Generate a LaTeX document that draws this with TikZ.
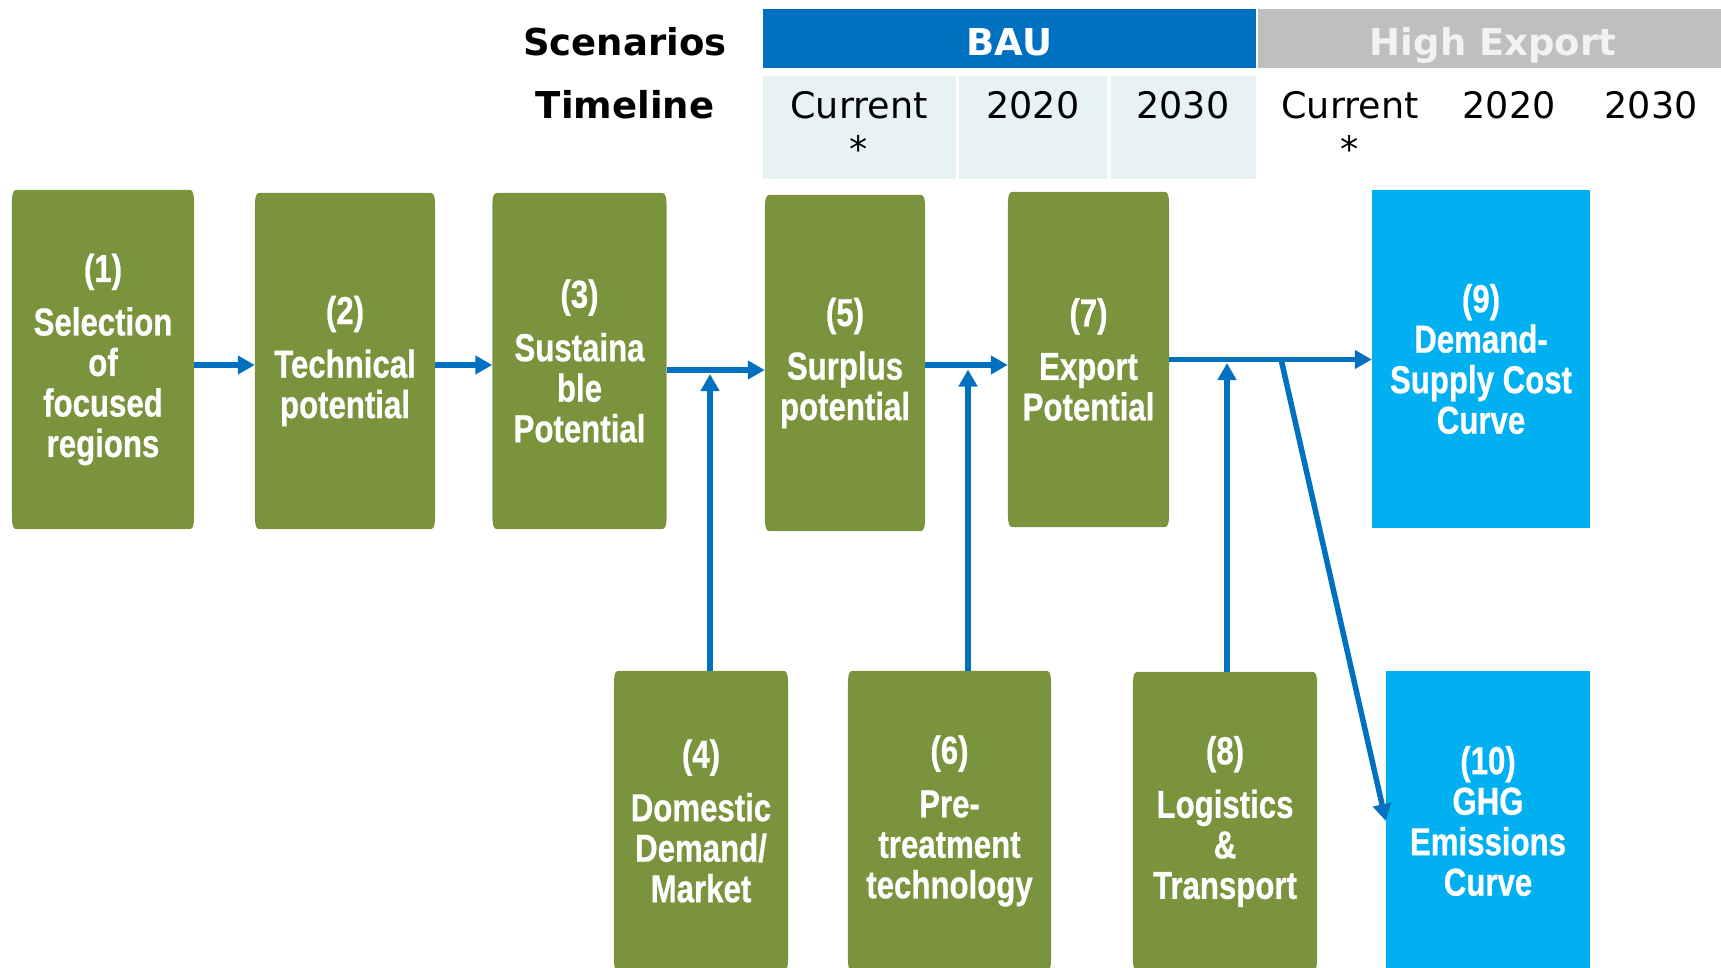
\documentclass[tikz,border=0pt]{standalone}
\usepackage{fontspec}
\setmainfont{DejaVu Sans}
\newfontfamily\boxfont[FakeStretch=0.80,BoldFeatures={FakeBold=0.6}]{Liberation Sans}
\usetikzlibrary{arrows.meta,backgrounds}
\definecolor{boxgreen}{RGB}{122,148,62}
\definecolor{curvecyan}{RGB}{0,176,240}
\definecolor{flowblue}{RGB}{0,112,192}
\definecolor{exportgray}{RGB}{191,191,191}
\definecolor{exporttext}{RGB}{242,242,242}
\definecolor{cellblue}{RGB}{231,242,244}

\begin{document}
\begin{tikzpicture}[x=1pt,y=-1pt,
  stage/.style={text=white,align=center,inner sep=0pt,font=\boxfont\bfseries\fontsize{39}{40.5}\selectfont},
  result/.style={stage,fill=curvecyan},
  flow/.style={draw=flowblue,line width=5.5pt,-{Triangle[length=17pt,width=18pt]}},
  headtxt/.style={anchor=base,font=\bfseries\fontsize{37}{44}\selectfont},
  yeartxt/.style={anchor=base,font=\fontsize{36.5}{44}\selectfont}]
\clip (0,0) rectangle (1721,968);

% scenario / timeline header
\node[headtxt] (scen) at (625,56) {Scenarios};
\node[headtxt] (time) at (625,119) {Timeline};
\node[fill=flowblue,minimum width=493pt,minimum height=59pt,inner sep=0pt] (bau) at (1009.5,38.5) {};
\node[fill=exportgray,minimum width=463pt,minimum height=59pt,inner sep=0pt] (hexp) at (1489.5,38.5) {};
\node[headtxt,text=white] (baut) at (bau.center |- scen.base) {BAU};
\node[headtxt,text=exporttext] (hexpt) at (1493,56) {High Export};
\foreach \xa/\xb in {763/956,959/1107,1111/1256} % edit here for the BAU cells
\fill[cellblue] (\xa,76) rectangle (\xb,179);
\foreach \x/\t in {859/Current,1033/2020,1183/2030,1350/Current,1509/2020,1651/2030} % edit here for the years
\node[yeartxt] at (\x,119) {\t};
\foreach \x in {859,1350} % edit here for the *'s
\node[yeartxt] at (\x,163) {*};

% stages
\node[stage,minimum width=182pt,minimum height=339pt] (b1) at (103,359.5) {(1)\\[13pt]Selection\\of\\focused\\regions};
\node[stage,minimum width=180pt,minimum height=336pt] (b2) at (345,361) {(2)\\[13pt]Technical\\potential};
\node[stage,minimum width=174pt,minimum height=336pt] (b3) at (579.5,361) {(3)\\[13pt]Sustaina\\ble\\Potential};
\node[stage,minimum width=174pt,minimum height=300pt] (b4) at (701,821) {(4)\\[13pt]Domestic\\Demand/\\Market};
\node[stage,minimum width=160pt,minimum height=336pt] (b5) at (845,363) {(5)\\[13pt]Surplus\\potential};
\node[stage,minimum width=203pt,minimum height=300pt] (b6) at (949.5,821) {(6)\\[13pt]Pre-\\treatment\\technology};
\node[stage,minimum width=161pt,minimum height=335pt] (b7) at (1088.5,359.5) {(7)\\[13pt]Export\\Potential};
\node[stage,minimum width=184pt,minimum height=299pt] (b8) at (1225,821.5) {(8)\\[13pt]Logistics\\\&\\Transport};
\node[result,minimum width=218pt,minimum height=338pt] (b9) at (1481,359) {(9)\\Demand-\\Supply Cost\\Curve};
\node[result,minimum width=204pt,minimum height=300pt] (b10) at (1488,821) {(10)\\GHG\\Emissions\\Curve};

\begin{scope}[on background layer]
\foreach \b in {b1,b2,b3,b4,b5,b6,b7,b8} % green boxes with soft corners
\fill[boxgreen] ([yshift=-28pt]\b.north west) .. controls (\b.north west) .. ([xshift=8pt]\b.north west)
  -- ([xshift=-8pt]\b.north east) .. controls (\b.north east) .. ([yshift=-28pt]\b.north east)
  -- ([yshift=28pt]\b.south east) .. controls (\b.south east) .. ([xshift=-8pt]\b.south east)
  -- ([xshift=8pt]\b.south west) .. controls (\b.south west) .. ([yshift=28pt]\b.south west) -- cycle;
\end{scope}

% arrows
\coordinate (j4) at (710,374);
\coordinate (j6) at (968,369.5);
\coordinate (j8) at (1227,363);
\coordinate (split) at (1281,359);
\draw[flow] ([yshift=-5.5pt]b1.east) -- ([yshift=-5.5pt]b1.east -| b2.west);
\draw[flow] ([yshift=-4pt]b2.east) -- ([yshift=-4pt]b2.east -| b3.west);
\draw[flow] ([yshift=-9pt]b3.east) -- ([yshift=-9pt]b3.east -| b5.west);
\draw[flow] ([yshift=-2pt]b5.east) -- ([yshift=-2pt]b5.east -| b7.west);
\draw[flow] (b7.east) -- (b7.east -| b9.west);
\draw[flow] (b4.north -| j4) -- (j4);
\draw[flow] (b6.north -| j6) -- (j6);
\draw[flow] (b8.north -| j8) -- (j8);
\draw[flow] (split) -- (b10.west);
\end{tikzpicture}
\end{document}
